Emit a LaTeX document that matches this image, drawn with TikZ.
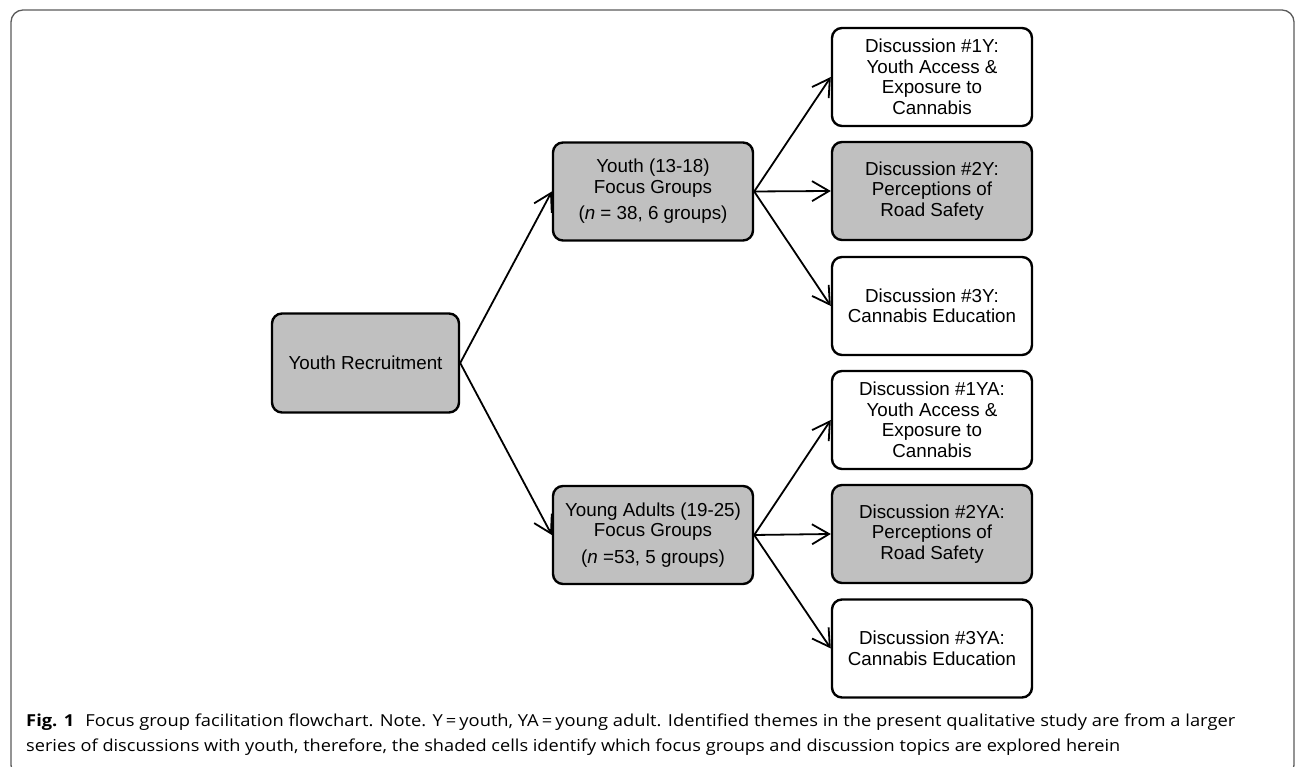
\documentclass[tikz,border=0pt]{standalone}
\usepackage{fontspec}
\setmainfont{Liberation Sans}
\newfontfamily\capfont{Open Sans}
\usetikzlibrary{arrows.meta}
\definecolor{boxgray}{RGB}{192,192,192}
\definecolor{framegray}{RGB}{90,90,90}
\begin{document}
\begin{tikzpicture}[x=1pt,y=1pt,
  box/.style={draw=black, line width=2.4pt, rounded corners=10pt, minimum width=200pt, minimum height=98pt, align=center, inner sep=2pt, font=\fontsize{18.8}{20.5}\selectfont},
  shaded/.style={box, fill=boxgray},
  plain/.style={box, fill=white},
  conn/.style={line width=1.8pt, -{Straight Barb[length=17pt,width=20pt,line width=1.8pt]}}
]
\useasboundingbox (0,0) rectangle (1296,767);
\draw[framegray, line width=1.3pt, rounded corners=12pt] (11,-10) rectangle (1294,757);

\node[shaded, minimum width=187pt, minimum height=99pt] (rec) at (365.5,404) {Youth Recruitment};
\node[shaded] (y) at (653,575.5) {Youth (13-18)\\Focus Groups\\[6pt](\textit{n} = 38, 6 groups)};
\node[shaded] (ya) at (653,232) {Young Adults (19-25)\\Focus Groups\\[6pt](\textit{n} =53, 5 groups)};

\node[plain] (d1y) at (932,690) {Discussion \#1Y:\\Youth Access \&\\Exposure to\\Cannabis};
\node[shaded] (d2y) at (932,576) {Discussion \#2Y:\\Perceptions of\\Road Safety};
\node[plain] (d3y) at (932,461) {Discussion \#3Y:\\Cannabis Education};
\node[plain] (d1ya) at (932,347) {Discussion \#1YA:\\Youth Access \&\\Exposure to\\Cannabis};
\node[shaded] (d2ya) at (932,233) {Discussion \#2YA:\\Perceptions of\\Road Safety};
\node[plain] (d3ya) at (932,118.5) {Discussion \#3YA:\\Cannabis Education};

\draw[conn] (rec.east) -- (y.west);
\draw[conn] (rec.east) -- (ya.west);
\draw[conn] (y.east) -- (d1y.west);
\draw[conn] (y.east) -- (d2y.west);
\draw[conn] (y.east) -- (d3y.west);
\draw[conn] (ya.east) -- (d1ya.west);
\draw[conn] (ya.east) -- (d2ya.west);
\draw[conn] (ya.east) -- (d3ya.west);

\node[anchor=base west, inner sep=0pt, font=\capfont\fontsize{16.5}{19}\selectfont] (cap1) at (26,40) {\resizebox{1209pt}{\height}{\textbf{Fig. 1}\hspace{10pt}Focus group facilitation flowchart. Note. Y\,=\,youth, YA\,=\,young adult. Identified themes in the present qualitative study are from a larger}};
\node[anchor=base west, inner sep=0pt, font=\capfont\fontsize{16.5}{19}\selectfont] (cap2) at (26,15) {\resizebox{1094pt}{\height}{series of discussions with youth, therefore, the shaded cells identify which focus groups and discussion topics are explored herein}};
\end{tikzpicture}
\end{document}
